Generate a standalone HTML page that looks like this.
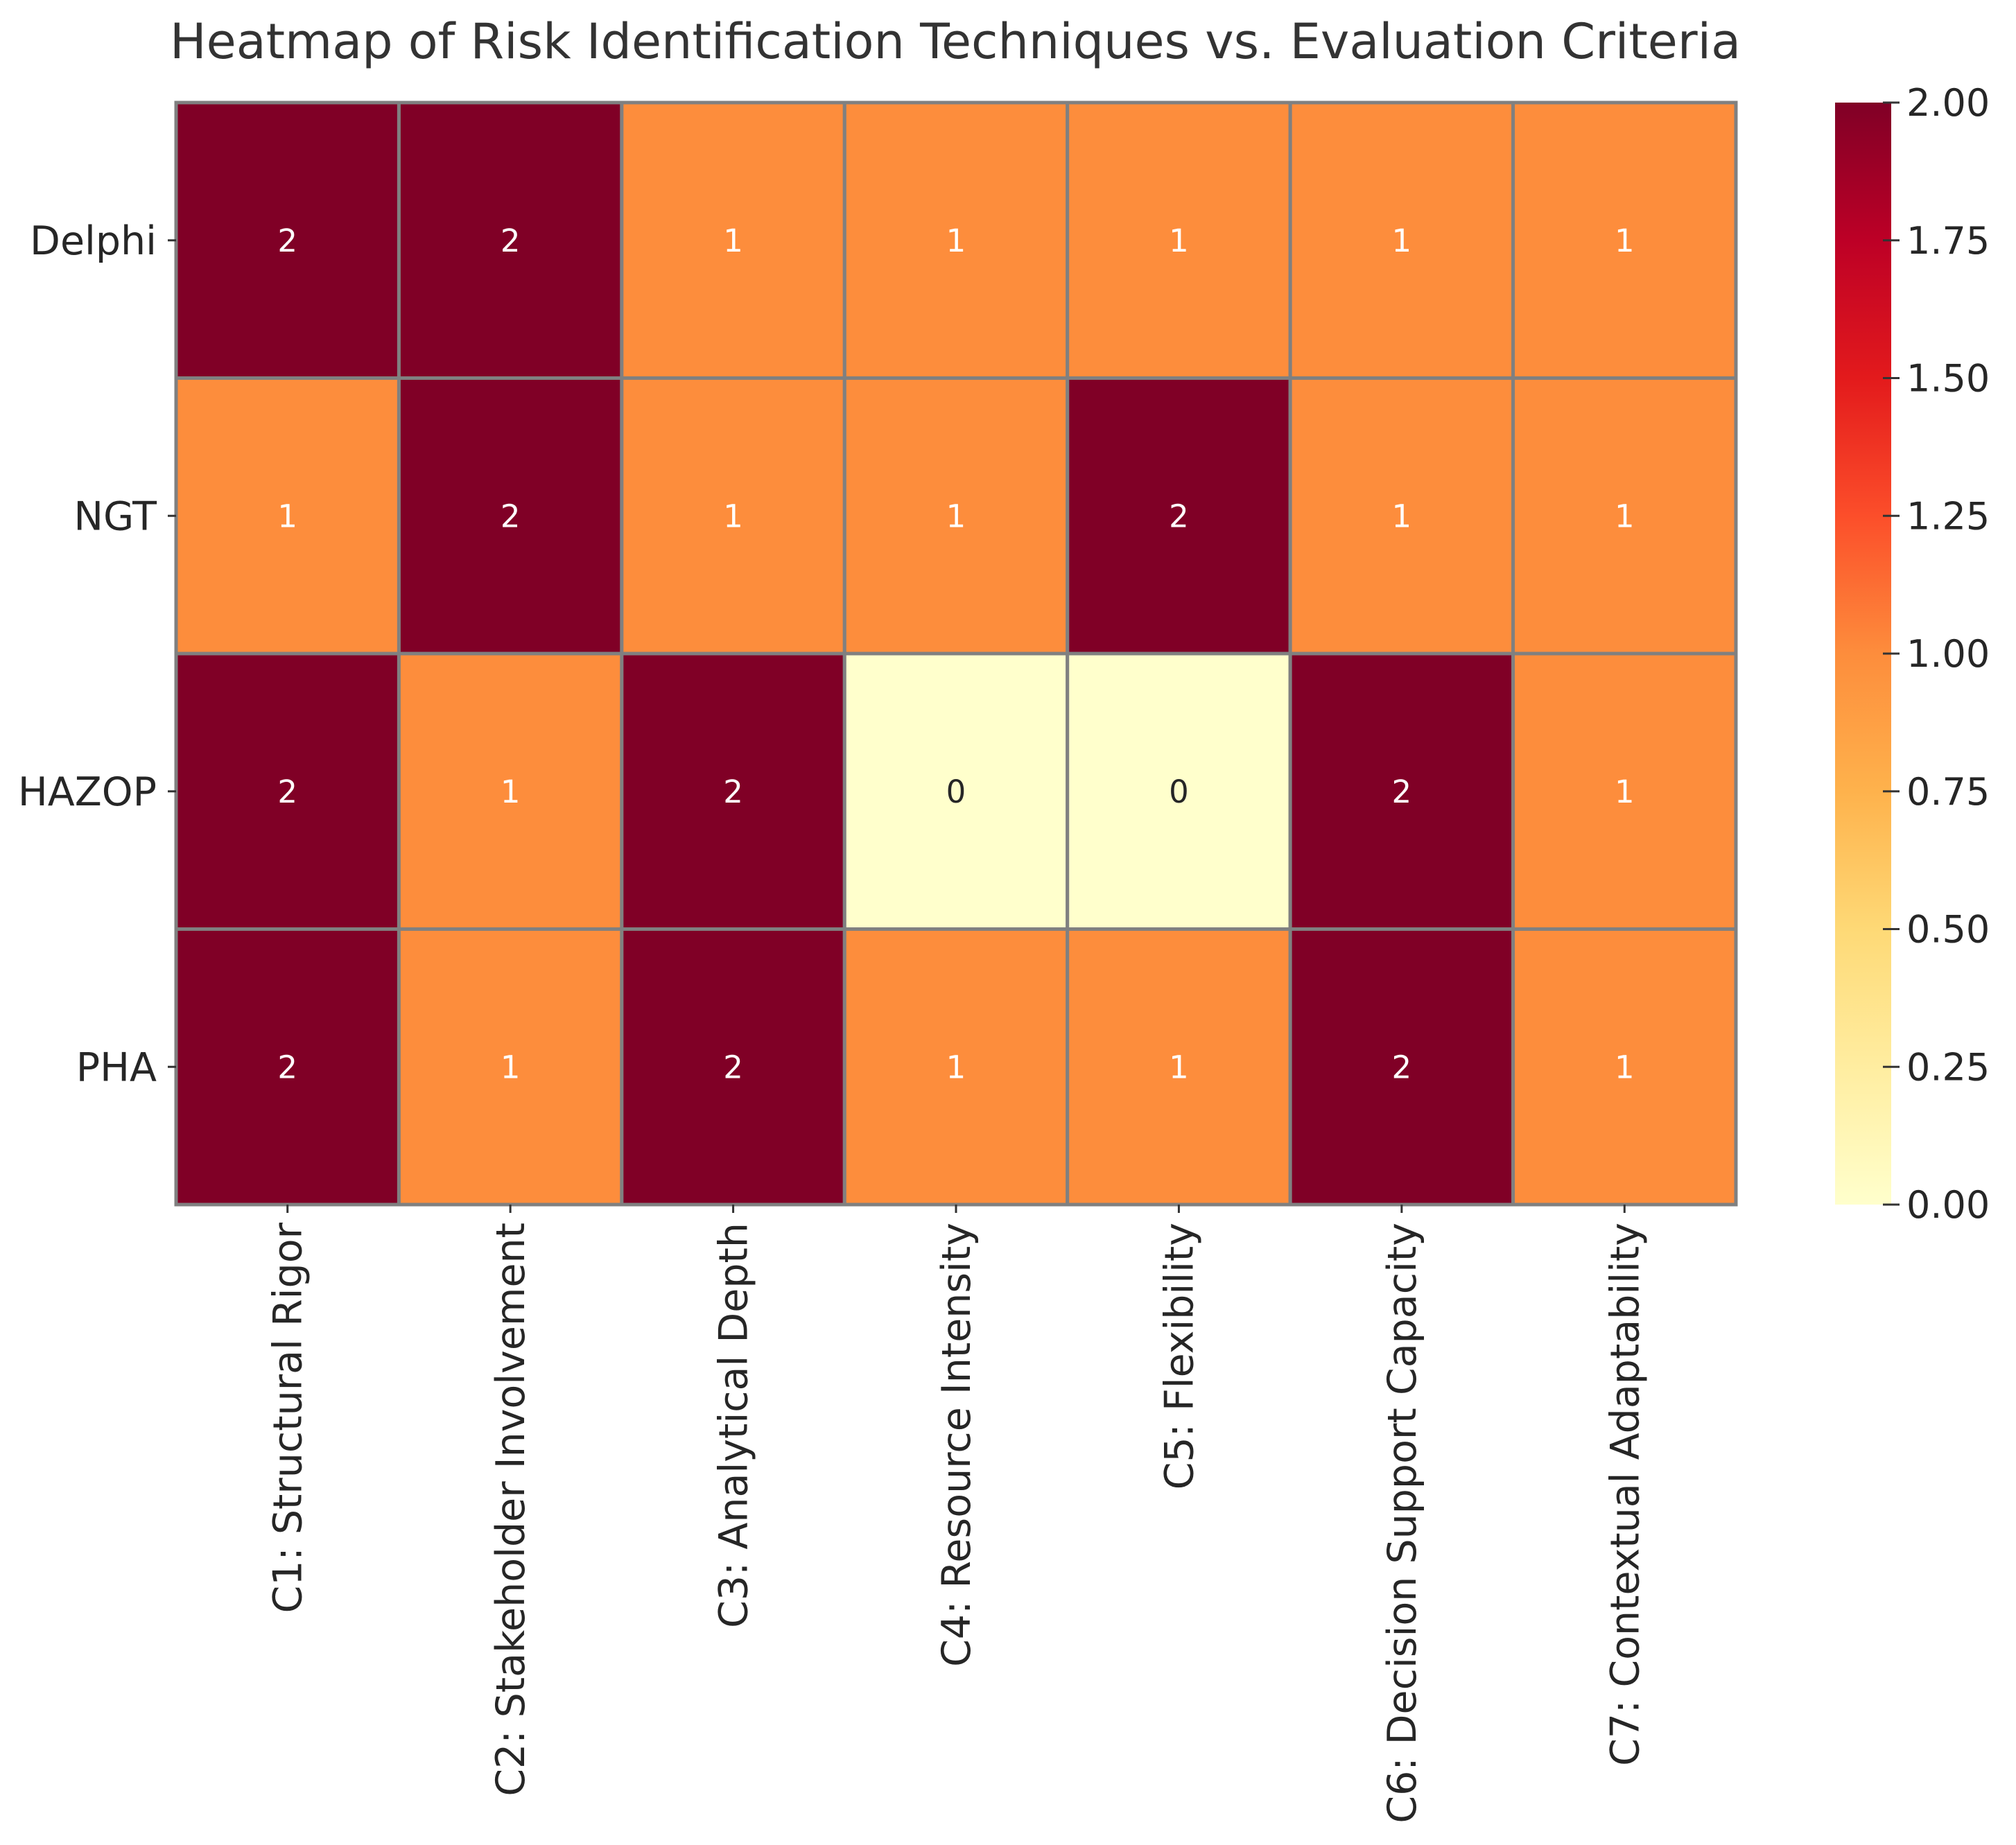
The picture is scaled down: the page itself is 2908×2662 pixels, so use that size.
<!DOCTYPE html>
<html><head><meta charset="utf-8"><style>
html,body{margin:0;padding:0;background:#fff;}
svg{display:block;font-family:"DejaVu Sans","Liberation Sans",sans-serif;}
</style></head><body>
<svg id="chart" width="2908" height="2662" viewBox="0 0 2908 2662" xmlns="http://www.w3.org/2000/svg">
<defs>
<linearGradient id="ylorrd" x1="0" y1="1" x2="0" y2="0">
<stop offset="0" stop-color="#ffffcc"/>
<stop offset="0.125" stop-color="#ffeda0"/>
<stop offset="0.25" stop-color="#fed976"/>
<stop offset="0.375" stop-color="#feb24c"/>
<stop offset="0.5" stop-color="#fd8d3c"/>
<stop offset="0.625" stop-color="#fc4e2a"/>
<stop offset="0.75" stop-color="#e31a1c"/>
<stop offset="0.875" stop-color="#bd0026"/>
<stop offset="1" stop-color="#800026"/>
</linearGradient>
</defs>
<text x="1378" y="84" text-anchor="middle" font-size="70" fill="#333">Heatmap of Risk Identification Techniques vs. Evaluation Criteria</text>
<g id="cells"></g>
<g id="axes"></g>
<g id="cbar"></g>
</svg>
<script>
const rows = ["Delphi","NGT","HAZOP","PHA"];
const cols = ["C1: Structural Rigor","C2: Stakeholder Involvement","C3: Analytical Depth","C4: Resource Intensity","C5: Flexibility","C6: Decision Support Capacity","C7: Contextual Adaptability"];
const valuesDelphi = [2,2,1,1,1,1,1];
const valuesNGT = [1,2,1,1,2,1,1];
const valuesHAZOP = [2,1,2,0,0,2,1];
const valuesPHA = [2,1,2,1,1,2,1];
const colorTicks = [0,0.25,0.5,0.75,1,1.25,1.5,1.75,2];
const vmin = 0, vmax = 2;

const matrix = [valuesDelphi, valuesNGT, valuesHAZOP, valuesPHA];
const L=254, R=2504, T=148, B=1738;
const cw=(R-L)/cols.length, ch=(B-T)/rows.length;
const xPos = i => L + i*cw;
const yPos = j => T + j*ch;
const NS="http://www.w3.org/2000/svg";
function mk(tag, attrs, parent){const e=document.createElementNS(NS,tag);for(const k in attrs)e.setAttribute(k,attrs[k]);parent.appendChild(e);return e;}
const stops=[[0,[255,255,204]],[0.125,[255,237,160]],[0.25,[254,217,118]],[0.375,[254,178,76]],[0.5,[253,141,60]],[0.625,[252,78,42]],[0.75,[227,26,28]],[0.875,[189,0,38]],[1,[128,0,38]]];
function cmap(v){const t=Math.max(0,Math.min(1,(v-vmin)/(vmax-vmin)));for(let i=1;i<stops.length;i++){if(t<=stops[i][0]){const a=stops[i-1],b=stops[i];const f=(t-a[0])/(b[0]-a[0]);const c=a[1].map((x,k)=>Math.round(x+(b[1][k]-x)*f));return `rgb(${c[0]},${c[1]},${c[2]})`;}}return "rgb(128,0,38)";}
const cells=document.getElementById('cells');
matrix.forEach((rowVals,j)=>{rowVals.forEach((v,i)=>{
  const r=mk('rect',{x:xPos(i),y:yPos(j),width:cw,height:ch,fill:cmap(v),stroke:'#808080','stroke-width':5},cells);
  
  
  const t=mk('text',{x:xPos(i)+cw/2,y:yPos(j)+ch/2+16,'text-anchor':'middle','font-size':45,fill:(v>=1?'#fff':'#262626')},cells);
  t.textContent=String(v);
  
  
});});
const axes=document.getElementById('axes');
rows.forEach((name,j)=>{
  const y=yPos(j)+ch/2;
  const tk=mk('line',{x1:L-12,x2:L,y1:y,y2:y,stroke:'#333','stroke-width':3},axes);
  
  
  const t=mk('text',{x:L-28,y:y+20,'text-anchor':'end','font-size':57,fill:'#262626'},axes);
  t.textContent=name;
  
  
});
cols.forEach((name,i)=>{
  const x=xPos(i)+cw/2;
  const tk=mk('line',{x1:x,x2:x,y1:B,y2:B+12,stroke:'#333','stroke-width':3},axes);
  
  
  const t=mk('text',{x:x+20,y:B+26,'text-anchor':'end','font-size':57,fill:'#262626',transform:`rotate(-90 ${x+20} ${B+26})`},axes);
  t.textContent=name;
  
  
});
const cb=document.getElementById('cbar');
const CL=2647, CR=2728;
const bar=mk('rect',{x:CL,y:T,width:CR-CL,height:B-T,fill:'url(#ylorrd)'},cb);


colorTicks.forEach(v=>{
  const y=B-(v-vmin)/(vmax-vmin)*(B-T);
  const tk=mk('line',{x1:CR-12,x2:CR+12,y1:y,y2:y,stroke:'#333','stroke-width':3},cb);
  
  
  const t=mk('text',{x:CR+22,y:y+19,'font-size':54,fill:'#262626'},cb);
  t.textContent=v.toFixed(2);
  
  
});
</script>
</body></html>
